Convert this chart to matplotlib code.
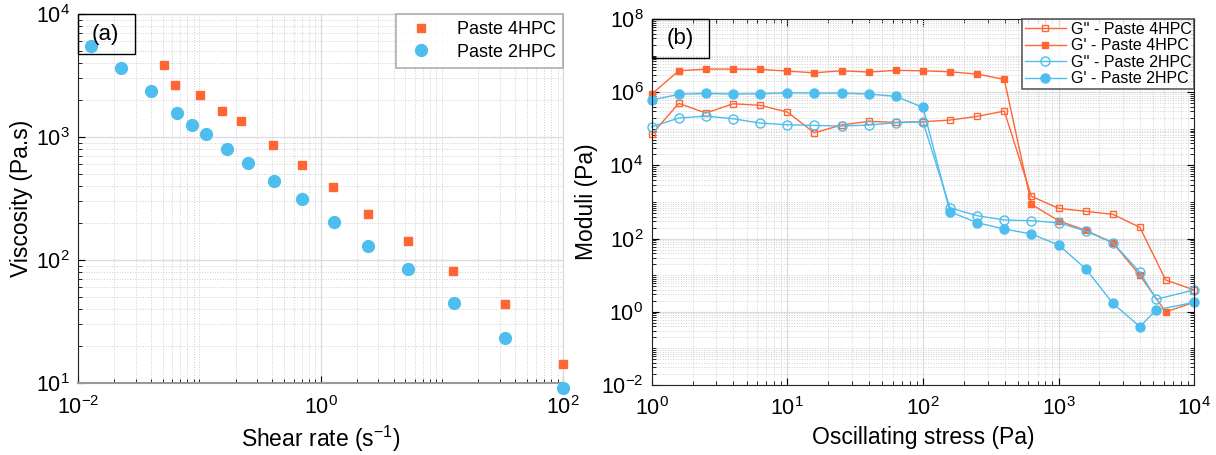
import numpy as np
import matplotlib
matplotlib.use('Agg')
import matplotlib.pyplot as plt
from matplotlib.ticker import LogLocator, NullFormatter
from matplotlib.patches import Rectangle

plt.rcParams['font.family'] = ['Liberation Sans', 'DejaVu Sans']
plt.rcParams['mathtext.default'] = 'regular'
plt.rcParams['axes.unicode_minus'] = False

ORANGE = '#FF6633'
BLUE = '#4DBEEE'

# (a) viscosity vs shear rate
rate_4hpc = [0.0509, 0.0627, 0.101, 0.154, 0.222, 0.403, 0.70, 1.26, 2.48, 5.27, 12.4, 33.2, 100]
visc_4hpc = [3860, 2670, 2200, 1636, 1352, 867, 593, 393, 239, 143.6, 82, 43.6, 14.4]
rate_2hpc = [0.0127, 0.0226, 0.0398, 0.0652, 0.0866, 0.113, 0.168, 0.252, 0.414, 0.70,
             1.285, 2.48, 5.30, 12.6, 33.2, 100]
visc_2hpc = [5460, 3620, 2370, 1556, 1248, 1067, 796, 611, 441, 313, 204, 130, 84.6, 44.4, 23.2, 9.1]

# (b) amplitude sweep
stress_4hpc = [1, 1.58, 2.51, 3.98, 6.31, 10, 15.8, 25.1, 39.8, 63.1, 100, 158, 251, 398,
               631, 1000, 1585, 2512, 3981, 6170, 10000]
stress_2hpc = [1, 1.58, 2.51, 3.98, 6.31, 10, 15.8, 25.1, 39.8, 63.1, 100, 158, 251, 398,
               631, 1000, 1585, 2512, 3981, 5250, 10000]
log_gpp_4hpc = [4.850, 5.697, 5.432, 5.686, 5.642, 5.459, 4.893, 5.104, 5.205, 5.178, 5.195,
                5.240, 5.341, 5.486, 3.156, 2.828, 2.746, 2.664, 2.309, 0.869, 0.596]
log_gp_4hpc = [5.951, 6.587, 6.634, 6.634, 6.626, 6.579, 6.533, 6.587, 6.552, 6.598, 6.587,
               6.560, 6.497, 6.352, 2.937, 2.489, 2.226, 1.888, 0.997, -0.005, 0.260]
log_gpp_2hpc = [5.058, 5.295, 5.350, 5.276, 5.158, 5.112, 5.094, 5.077, 5.104, 5.167, 5.195,
                2.844, 2.626, 2.508, 2.489, 2.434, 2.208, 1.888, 1.079, 0.342, 0.596]
log_gp_2hpc = [5.787, 5.943, 5.970, 5.951, 5.960, 5.987, 5.978, 5.978, 5.951, 5.888, 5.587,
               2.735, 2.434, 2.262, 2.126, 1.825, 1.178, 0.232, -0.407, 0.049, 0.260]


def style_axes(ax):
    ax.grid(True, which='major', color='#dcdcdc', linestyle='-', linewidth=0.9)
    ax.grid(True, which='minor', color='#d0d0d0', linestyle=':', linewidth=0.7)
    ax.set_axisbelow(True)
    ax.tick_params(which='both', direction='in', labelsize=15.5)
    ax.tick_params(axis='x', which='major', pad=9)
    ax.tick_params(axis='y', which='major', pad=6)
    ax.tick_params(which='major', length=5)
    ax.tick_params(which='minor', length=3)


def panel_tag(ax, text, w, h):
    ax.add_patch(Rectangle((0, 1 - h), w, h, transform=ax.transAxes, fill=False,
                           edgecolor='black', linewidth=1.0, zorder=5, clip_on=False))
    ax.text(0.028, 1 - h / 2, text, transform=ax.transAxes, fontsize=16,
            ha='left', va='center', zorder=6)


fig = plt.figure(figsize=(12.16, 4.55), dpi=100)

# ---- panel (a)
ax1 = fig.add_axes([0.0641, 0.158, 0.399, 0.811])
ax1.set_xscale('log')
ax1.set_yscale('log')
ax1.plot(rate_4hpc, visc_4hpc, 's', color=ORANGE, ms=6, label='Paste 4HPC', clip_on=False, zorder=4)
ax1.plot(rate_2hpc, visc_2hpc, 'o', color=BLUE, ms=8.5, label='Paste 2HPC', clip_on=False, zorder=4)
ax1.set_xlim(1e-2, 1e2)
ax1.set_ylim(1e1, 1e4)
ax1.xaxis.set_major_locator(LogLocator(base=100, numticks=10))
ax1.xaxis.set_minor_locator(LogLocator(base=10, subs=np.arange(1, 10), numticks=20))
ax1.xaxis.set_minor_formatter(NullFormatter())
ax1.yaxis.set_minor_locator(LogLocator(base=10, subs=np.arange(2, 10), numticks=20))
ax1.yaxis.set_minor_formatter(NullFormatter())
style_axes(ax1)
ax1.tick_params(which='both', top=False, right=False)
for side in ['top', 'right']:
    ax1.spines[side].set_color('#d8d8d8')
ax1.spines['bottom'].set_color('#999999')
ax1.spines['bottom'].set_linewidth(1.5)
ax1.spines['left'].set_color('#222222')
ax1.set_xlabel('Shear rate (s$^{-1}$)', fontsize=16.5, labelpad=4)
ax1.set_ylabel('Viscosity (Pa.s)', fontsize=16.5, labelpad=2)
leg1 = ax1.legend(loc='upper right', borderaxespad=0, fontsize=13, frameon=True,
                  fancybox=False, edgecolor='#999999', handletextpad=1.0,
                  borderpad=0.4, labelspacing=0.3)
leg1.get_frame().set_linewidth(1.2)
panel_tag(ax1, '(a)', 0.1175, 0.108)

# ---- panel (b)
ax2 = fig.add_axes([0.536, 0.154, 0.446, 0.804])
ax2.set_xscale('log')
ax2.set_yscale('log')
ax2.plot(stress_4hpc, 10 ** np.array(log_gpp_4hpc), '-s', color=ORANGE, mfc='none', ms=5,
         lw=1.0, mew=1.0, label="G'' - Paste 4HPC", clip_on=False)
ax2.plot(stress_4hpc, 10 ** np.array(log_gp_4hpc), '-s', color=ORANGE, ms=5,
         lw=1.0, label="G' - Paste 4HPC", clip_on=False)
ax2.plot(stress_2hpc, 10 ** np.array(log_gpp_2hpc), '-o', color=BLUE, mfc='none', ms=6.5,
         lw=1.0, mew=1.0, label="G'' - Paste 2HPC", clip_on=False)
ax2.plot(stress_2hpc, 10 ** np.array(log_gp_2hpc), '-o', color=BLUE, ms=6.5,
         lw=1.0, label="G' - Paste 2HPC", clip_on=False)
ax2.set_xlim(1, 1e4)
ax2.set_ylim(1e-2, 1e8)
ax2.xaxis.set_major_locator(LogLocator(base=10, numticks=10))
ax2.xaxis.set_minor_locator(LogLocator(base=10, subs=np.arange(2, 10), numticks=20))
ax2.xaxis.set_minor_formatter(NullFormatter())
ax2.yaxis.set_major_locator(LogLocator(base=100, numticks=10))
ax2.yaxis.set_minor_locator(LogLocator(base=10, subs=np.arange(1, 10), numticks=30))
ax2.yaxis.set_minor_formatter(NullFormatter())
style_axes(ax2)
ax2.tick_params(which='both', top=True, right=True)
for side in ax2.spines:
    ax2.spines[side].set_color('#222222')
ax2.set_xlabel('Oscillating stress (Pa)', fontsize=16.5, labelpad=4)
ax2.set_ylabel('Moduli (Pa)', fontsize=16.5, labelpad=2)
leg2 = ax2.legend(loc='upper right', borderaxespad=0, fontsize=11.5, frameon=True,
                  fancybox=False, edgecolor='#333333', handlelength=2.6,
                  handletextpad=0.3, borderpad=0.15, labelspacing=0.1)
leg2.get_frame().set_linewidth(1.2)
panel_tag(ax2, '(b)', 0.105, 0.107)

fig.savefig('out.png', dpi=100, facecolor='white')
